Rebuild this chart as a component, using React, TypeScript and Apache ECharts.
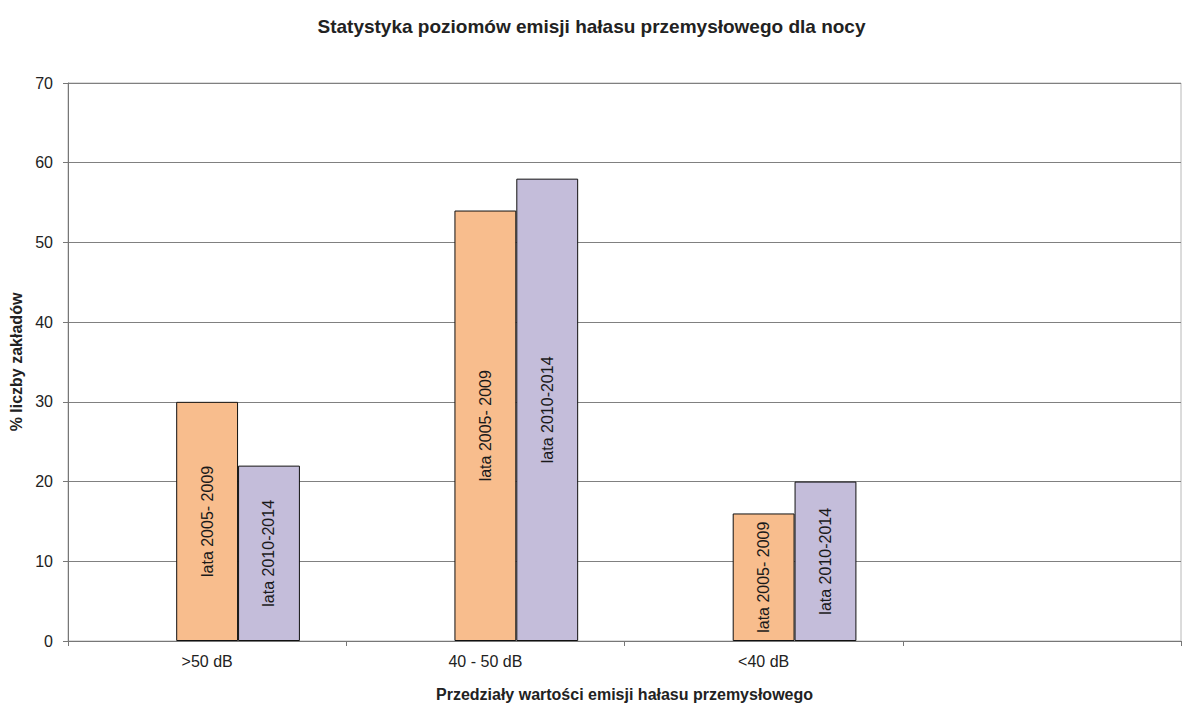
import React, { useEffect, useRef } from "react";
import * as echarts from "echarts";

const title = "Statystyka poziomów emisji hałasu przemysłowego dla nocy";
const categories = [">50 dB", "40 - 50 dB", "<40 dB", ""];
const seriesNames = ["lata 2005- 2009", "lata 2010-2014"];
const values2005 = [30, 54, 16, null];
const values2010 = [22, 58, 20, null];
const yAxisName = "% liczby zakładów";
const xAxisName = "Przedziały wartości emisji hałasu przemysłowego";

const FONT = "'Liberation Sans', Arial, sans-serif";

export default function App() {
  const ref = useRef<HTMLDivElement>(null);
  useEffect(() => {
    if (!ref.current) return;
    const chart = echarts.init(ref.current, undefined, { renderer: "svg" });
    const label = {
      show: true,
      position: "inside",
      rotate: 90,
      formatter: (p: any) => p.seriesName,
      color: "#1a1a1a",
      fontSize: 16,
      fontFamily: FONT,
    };
    chart.setOption({
      animation: false,
      backgroundColor: "#fff",
      textStyle: { fontFamily: FONT },
      title: {
        text: title,
        left: "center",
        top: 12,
        textStyle: { fontSize: 19, fontWeight: "bold", color: "#222", fontFamily: FONT },
      },
      grid: {
        left: 68,
        right: 2,
        top: 83,
        bottom: 65,
        show: true,
        borderColor: "#b8b8b8",
        borderWidth: 1,
      },
      xAxis: {
        type: "category",
        data: categories,
        name: xAxisName,
        nameLocation: "middle",
        nameGap: 45,
        nameTextStyle: { fontSize: 16, fontWeight: "bold", color: "#222", fontFamily: FONT },
        axisLine: { lineStyle: { color: "#777" } },
        axisTick: { show: true, length: 5, lineStyle: { color: "#777" } },
        axisLabel: { fontSize: 16, color: "#222", margin: 12, fontFamily: FONT },
      },
      yAxis: {
        type: "value",
        min: 0,
        max: 70,
        interval: 10,
        name: yAxisName,
        nameLocation: "middle",
        nameGap: 36,
        nameTextStyle: { fontSize: 16, fontWeight: "bold", color: "#222", fontFamily: FONT },
        axisLine: { show: true, lineStyle: { color: "#777" } },
        axisTick: { show: true, length: 5, lineStyle: { color: "#777" } },
        axisLabel: { fontSize: 16, color: "#222", margin: 15, fontFamily: FONT },
        splitLine: { show: true, lineStyle: { color: "#808080", width: 1 } },
      },
      series: [
        {
          name: "",
          type: "bar",
          data: categories.map(() => "-"),
          barGap: "0%",
          barCategoryGap: "33.3%",
          silent: true,
        },
        {
          name: seriesNames[0],
          type: "bar",
          data: values2005.map((v) => (v == null ? "-" : v)),
          barGap: "0%",
          barCategoryGap: "33.3%",
          itemStyle: { color: "#F8BD8D", borderColor: "#111", borderWidth: 1 },
          label,
        },
        {
          name: seriesNames[1],
          type: "bar",
          data: values2010.map((v) => (v == null ? "-" : v)),
          barGap: "0%",
          barCategoryGap: "33.3%",
          itemStyle: { color: "#C4BDDA", borderColor: "#111", borderWidth: 1 },
          label,
        },
      ],
    });
    return () => chart.dispose();
  }, []);
  return (
    <div
      ref={ref}
      style={{ position: "absolute", left: 0, top: 0, width: 1183, height: 707 }}
    />
  );
}
